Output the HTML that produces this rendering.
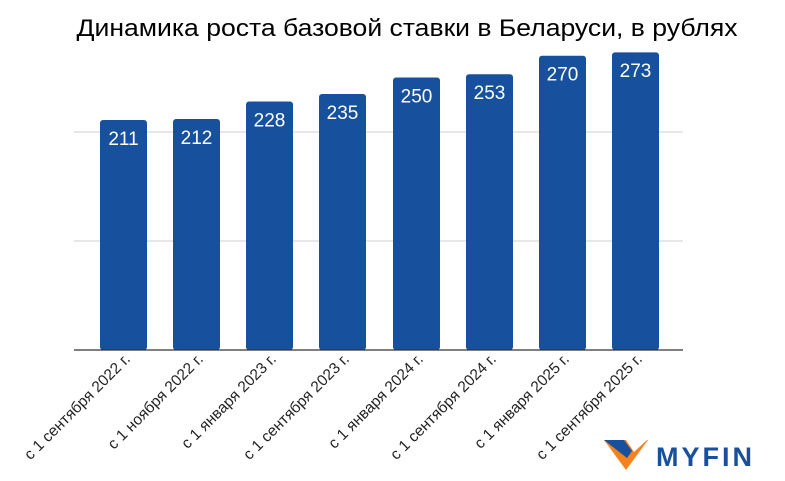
<!DOCTYPE html>
<html><head><meta charset="utf-8"><style>
body{margin:0;background:#fff;}
svg{display:block;font-family:"Liberation Sans",Arial,sans-serif;}
</style></head><body>
<svg width="785" height="481" viewBox="0 0 785 481" xmlns="http://www.w3.org/2000/svg">
<rect width="785" height="481" fill="#fff"/>
<text x="407" y="36" text-anchor="middle" font-size="24" fill="#000" textLength="661" lengthAdjust="spacingAndGlyphs">Динамика роста базовой ставки в Беларуси, в рублях</text>
<line x1="74" y1="132" x2="683" y2="132" stroke="#cfcfcf" stroke-width="1"/>
<line x1="74" y1="241" x2="683" y2="241" stroke="#cfcfcf" stroke-width="1"/>
<g fill="#17509c">
<rect x="100" y="120" width="47" height="230" rx="3"/>
<rect x="173" y="119" width="47" height="231" rx="3"/>
<rect x="246" y="101.5" width="47" height="248.5" rx="3"/>
<rect x="319" y="94" width="47" height="256" rx="3"/>
<rect x="393" y="77.5" width="47" height="272.5" rx="3"/>
<rect x="466" y="74.2" width="47" height="275.8" rx="3"/>
<rect x="539" y="55.7" width="47" height="294.3" rx="3"/>
<rect x="612" y="52.4" width="47" height="297.6" rx="3"/>
</g>
<g fill="#fff" font-size="19" text-anchor="middle">
<text x="123.5" y="145">211</text>
<text x="196.5" y="144">212</text>
<text x="269.5" y="126.5">228</text>
<text x="342.5" y="119">235</text>
<text x="416.5" y="102.5">250</text>
<text x="489.5" y="99">253</text>
<text x="562.5" y="80.5">270</text>
<text x="635.5" y="77">273</text>
</g>
<line x1="74" y1="350" x2="683" y2="350" stroke="#333" stroke-width="1.2"/>
<g font-size="15.5" fill="#222" text-anchor="end">
<text transform="translate(131,360) rotate(-45)">с 1 сентября 2022 г.</text>
<text transform="translate(204,360) rotate(-45)">с 1 ноября 2022 г.</text>
<text transform="translate(277,360) rotate(-45)">с 1 января 2023 г.</text>
<text transform="translate(350,360) rotate(-45)">с 1 сентября 2023 г.</text>
<text transform="translate(424,360) rotate(-45)">с 1 января 2024 г.</text>
<text transform="translate(497,360) rotate(-45)">с 1 сентября 2024 г.</text>
<text transform="translate(570,360) rotate(-45)">с 1 января 2025 г.</text>
<text transform="translate(643,360) rotate(-45)">с 1 сентября 2025 г.</text>
</g>
<polygon points="604,440 626,440 634,452 647,440 648,440 626,470" fill="#f5821f"/>
<polygon points="604,440 624,440 632,451 627,458" fill="#17509c"/>
<text x="656" y="466" font-size="27" font-weight="bold" fill="#17509c" textLength="96" lengthAdjust="spacing">MYFIN</text>
</svg>
</body></html>
